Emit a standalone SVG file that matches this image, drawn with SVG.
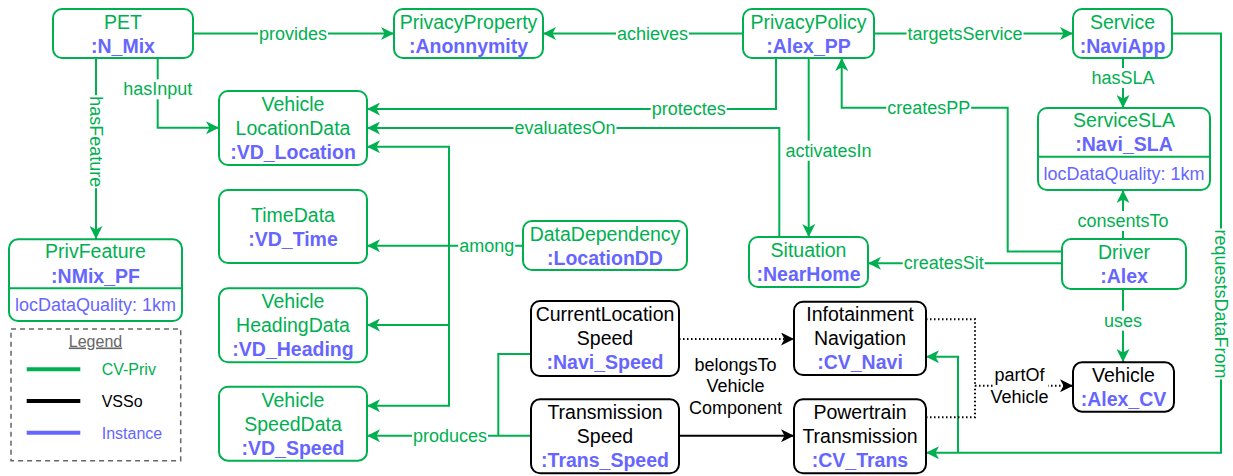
<svg xmlns="http://www.w3.org/2000/svg" width="1233" height="476" viewBox="0 0 1233 476">
  <style>
    .n { fill: #fff; stroke: #00B050; stroke-width: 2; }
    .nb { fill: #fff; stroke: #000; stroke-width: 2; }
    .t { font-family: "Liberation Sans", Arial, sans-serif; font-size: 19.5px; text-anchor: middle; }
    .g { fill: #00B050; }
    .k { fill: #000; }
    .i { fill: #6666FF; font-weight: bold; }
    .at { fill: #6666FF; font-size: 18px; }
    .e { fill: none; stroke: #00B050; stroke-width: 2; }
    .eb { fill: none; stroke: #000; stroke-width: 2; }
    .dot { stroke-dasharray: 1.5 2.5; }
    .lb { font-family: "Liberation Sans", Arial, sans-serif; font-size: 18px; text-anchor: middle; fill: #00B050; }
    .lbk { font-family: "Liberation Sans", Arial, sans-serif; font-size: 18px; text-anchor: middle; fill: #000; }
    .bg { fill: #fff; }
    .lg { font-family: "Liberation Sans", Arial, sans-serif; font-size: 16px; }
  </style>
  <defs>
    <marker id="ag" markerUnits="userSpaceOnUse" viewBox="0 0 13 13" markerWidth="13" markerHeight="13" refX="13" refY="6.5" orient="auto">
      <path d="M0,0 L13,6.5 L0,13 L3.5,6.5 Z" fill="#00B050"/>
    </marker>
    <marker id="ak" markerUnits="userSpaceOnUse" viewBox="0 0 13 13" markerWidth="13" markerHeight="13" refX="13" refY="6.5" orient="auto">
      <path d="M0,0 L13,6.5 L0,13 L3.5,6.5 Z" fill="#000"/>
    </marker>
  </defs>

  <!-- connectors -->
  <g id="edges">
    <path class="e" d="M193,33.5 H394" marker-end="url(#ag)"/>
    <path class="e" d="M743,33.5 H543" marker-end="url(#ag)"/>
    <path class="e" d="M874,33.5 H1073" marker-end="url(#ag)"/>
    <path class="e" d="M1123,58 V108" marker-end="url(#ag)"/>
    <path class="e" d="M1172,33.5 H1221 V452.7 H926" marker-end="url(#ag)"/>
    <path class="e" d="M958,452.7 V356.7 H926" marker-end="url(#ag)"/>
    <path class="e" d="M96,58 V239" marker-end="url(#ag)"/>
    <path class="e" d="M157.7,58 V127.7 H219" marker-end="url(#ag)"/>
    <path class="e" d="M776,58 V109 H367" marker-end="url(#ag)"/>
    <path class="e" d="M779.3,237 V128 H367" marker-end="url(#ag)"/>
    <path class="e" d="M523,245.7 H367" marker-end="url(#ag)"/>
    <path class="e" d="M449,245.7 V146.7 H367" marker-end="url(#ag)"/>
    <path class="e" d="M449,245.7 V325 H367" marker-end="url(#ag)"/>
    <path class="e" d="M449,325 V405.7 H367" marker-end="url(#ag)"/>
    <path class="e" d="M808.7,58 V237" marker-end="url(#ag)"/>
    <path class="e" d="M1062,251.5 H1007.7 V107.7 H841.7 V58" marker-end="url(#ag)"/>
    <path class="e" d="M1062,263.3 H868" marker-end="url(#ag)"/>
    <path class="e" d="M1123,239 V190" marker-end="url(#ag)"/>
    <path class="e" d="M1123,289 V362" marker-end="url(#ag)"/>
    <path class="e" d="M531,354 H498.3 V435.7"/>
    <path class="e" d="M531,435.7 H367" marker-end="url(#ag)"/>

    <path class="eb dot" d="M679,339 H794" marker-end="url(#ak)"/>
    <path class="eb" d="M679,435.7 H794" marker-end="url(#ak)"/>
    <path class="eb dot" d="M926,319.3 H975 V385.7"/>
    <path class="eb dot" d="M926,417.3 H975 V385.7"/>
    <path class="eb dot" d="M975,385.7 H1073" marker-end="url(#ak)"/>

    <!-- connector labels -->
    <rect class="bg" x="258" y="23.5" width="70" height="20"/>
    <text class="lb" x="293" y="39.5">provides</text>
    <rect class="bg" x="616" y="23.5" width="73" height="20"/>
    <text class="lb" x="652.5" y="39.5">achieves</text>
    <rect class="bg" x="906.5" y="23.5" width="117" height="20"/>
    <text class="lb" x="965" y="39.5">targetsService</text>
    <rect class="bg" x="1090.5" y="68" width="65" height="20"/>
    <text class="lb" x="1123" y="84">hasSLA</text>
    <rect class="bg" x="122" y="79.3" width="71" height="20"/>
    <text class="lb" x="157.7" y="95.3">hasInput</text>
    <rect class="bg" x="650.7" y="99" width="76" height="20"/>
    <text class="lb" x="688.7" y="115">protectes</text>
    <rect class="bg" x="513.5" y="118" width="103" height="20"/>
    <text class="lb" x="565" y="134">evaluatesOn</text>
    <rect class="bg" x="784.5" y="140.7" width="88" height="20"/>
    <text class="lb" x="828.5" y="156.7">activatesIn</text>
    <rect class="bg" x="886.2" y="97.7" width="85" height="20"/>
    <text class="lb" x="928.7" y="113.7">createsPP</text>
    <rect class="bg" x="902.7" y="253.3" width="82" height="20"/>
    <text class="lb" x="943.7" y="269.3">createsSit</text>
    <rect class="bg" x="1075.5" y="211" width="95" height="20"/>
    <text class="lb" x="1123" y="227">consentsTo</text>
    <rect class="bg" x="1103" y="310.7" width="40" height="20"/>
    <text class="lb" x="1123" y="326.7">uses</text>
    <rect class="bg" x="458.2" y="235.7" width="57" height="20"/>
    <text class="lb" x="486.7" y="251.7">among</text>
    <rect class="bg" x="412" y="425.7" width="76" height="20"/>
    <text class="lb" x="450" y="441.7">produces</text>
    <g transform="translate(96,141.7) rotate(90)">
      <rect class="bg" x="-46.5" y="-10" width="93" height="20"/>
      <text class="lb" x="0" y="6">hasFeature</text>
    </g>
    <g transform="translate(1221,304) rotate(90)">
      <rect class="bg" x="-75.5" y="-10" width="151" height="20"/>
      <text class="lb" x="0" y="6">requestsDataFrom</text>
    </g>
    <text class="lbk" x="735.5" y="370.7">belongsTo</text>
    <text class="lbk" x="735.5" y="392.3">Vehicle</text>
    <text class="lbk" x="735.5" y="413.8">Component</text>
    <rect class="bg" x="993" y="364" width="55" height="44"/>
    <text class="lbk" x="1019.5" y="381">partOf</text>
    <text class="lbk" x="1019.5" y="403">Vehicle</text>
  </g>

  <!-- nodes -->
  <g id="pet">
    <rect class="n" x="53" y="9" width="140" height="49" rx="9"/>
    <text class="t g" x="123" y="28.5">PET</text>
    <text class="t i" x="123" y="52.5">:N_Mix</text>
  </g>
  <g id="privacyProperty">
    <rect class="n" x="394" y="9" width="149" height="49" rx="9"/>
    <text class="t g" x="468.5" y="28.5">PrivacyProperty</text>
    <text class="t i" x="468.5" y="52.5">:Anonnymity</text>
  </g>
  <g id="privacyPolicy">
    <rect class="n" x="743" y="9" width="131" height="49" rx="9"/>
    <text class="t g" x="808.5" y="28.5">PrivacyPolicy</text>
    <text class="t i" x="808.5" y="52.5">:Alex_PP</text>
  </g>
  <g id="service">
    <rect class="n" x="1073" y="9" width="99" height="49" rx="9"/>
    <text class="t g" x="1122.5" y="28.5">Service</text>
    <text class="t i" x="1122.5" y="52.5">:NaviApp</text>
  </g>
  <g id="serviceSLA">
    <rect class="n" x="1038" y="108" width="172" height="82" rx="9"/>
    <line class="n" x1="1038" y1="156.7" x2="1210" y2="156.7"/>
    <text class="t g" x="1124" y="127.3">ServiceSLA</text>
    <text class="t i" x="1124" y="151.3">:Navi_SLA</text>
    <text class="t at" x="1124" y="179.5">locDataQuality: 1km</text>
  </g>
  <g id="vehicleLocationData">
    <rect class="n" x="219" y="91" width="148" height="74" rx="9"/>
    <text class="t g" x="293" y="111">Vehicle</text>
    <text class="t g" x="293" y="135">LocationData</text>
    <text class="t i" x="293" y="159">:VD_Location</text>
  </g>
  <g id="timeData">
    <rect class="n" x="219" y="190" width="148" height="73" rx="9"/>
    <text class="t g" x="293" y="221.5">TimeData</text>
    <text class="t i" x="293" y="245.5">:VD_Time</text>
  </g>
  <g id="privFeature">
    <rect class="n" x="9" y="239.3" width="173" height="81.7" rx="9"/>
    <line class="n" x1="9" y1="288.3" x2="182" y2="288.3"/>
    <text class="t g" x="95.5" y="258.3">PrivFeature</text>
    <text class="t i" x="95.5" y="282.5">:NMix_PF</text>
    <text class="t at" x="95.5" y="311">locDataQuality: 1km</text>
  </g>
  <g id="vehicleHeadingData">
    <rect class="n" x="219" y="288.3" width="148" height="74" rx="9"/>
    <text class="t g" x="293" y="308.3">Vehicle</text>
    <text class="t g" x="293" y="332.3">HeadingData</text>
    <text class="t i" x="293" y="356.3">:VD_Heading</text>
  </g>
  <g id="vehicleSpeedData">
    <rect class="n" x="219" y="386.7" width="148" height="74" rx="9"/>
    <text class="t g" x="293" y="407">Vehicle</text>
    <text class="t g" x="293" y="431">SpeedData</text>
    <text class="t i" x="293" y="455">:VD_Speed</text>
  </g>
  <g id="dataDependency">
    <rect class="n" x="523" y="221" width="164" height="49" rx="9"/>
    <text class="t g" x="605" y="240.5">DataDependency</text>
    <text class="t i" x="605" y="264.5">:LocationDD</text>
  </g>
  <g id="situation">
    <rect class="n" x="749" y="237" width="119" height="50" rx="9"/>
    <text class="t g" x="808.5" y="257">Situation</text>
    <text class="t i" x="808.5" y="281">:NearHome</text>
  </g>
  <g id="driver">
    <rect class="n" x="1062" y="239" width="124" height="50" rx="9"/>
    <text class="t g" x="1124" y="259">Driver</text>
    <text class="t i" x="1124" y="283">:Alex</text>
  </g>
  <g id="currentLocationSpeed">
    <rect class="nb" x="531" y="301" width="148" height="75" rx="9"/>
    <text class="t k" x="605" y="321.4">CurrentLocation</text>
    <text class="t k" x="605" y="345.4">Speed</text>
    <text class="t i" x="605" y="369.4">:Navi_Speed</text>
  </g>
  <g id="transmissionSpeed">
    <rect class="nb" x="531" y="399.3" width="148" height="74" rx="9"/>
    <text class="t k" x="605" y="419.3">Transmission</text>
    <text class="t k" x="605" y="443.3">Speed</text>
    <text class="t i" x="605" y="467.3">:Trans_Speed</text>
  </g>
  <g id="infotainmentNavigation">
    <rect class="nb" x="794" y="301.7" width="132" height="73.3" rx="9"/>
    <text class="t k" x="860" y="321.4">Infotainment</text>
    <text class="t k" x="860" y="345.4">Navigation</text>
    <text class="t i" x="860" y="369.4">:CV_Navi</text>
  </g>
  <g id="powertrainTransmission">
    <rect class="nb" x="794" y="399.3" width="132" height="74" rx="9"/>
    <text class="t k" x="860" y="419.3">Powertrain</text>
    <text class="t k" x="860" y="443.3">Transmission</text>
    <text class="t i" x="860" y="467.3">:CV_Trans</text>
  </g>
  <g id="vehicle">
    <rect class="nb" x="1073" y="362.3" width="101" height="49.4" rx="9"/>
    <text class="t k" x="1123.5" y="382">Vehicle</text>
    <text class="t i" x="1123.5" y="406">:Alex_CV</text>
  </g>

  <!-- legend -->
  <g id="legend">
    <rect x="11" y="329" width="169.7" height="131.7" fill="#fff" stroke="#666" stroke-width="1.5" stroke-dasharray="5 4"/>
    <text class="lg" x="95.5" y="346.5" text-anchor="middle" fill="#666" text-decoration="underline">Legend</text>
    <line x1="26.7" y1="369.3" x2="80.3" y2="369.3" stroke="#00B050" stroke-width="4"/>
    <line x1="26.7" y1="401" x2="80.3" y2="401" stroke="#000" stroke-width="4"/>
    <line x1="26.7" y1="432.7" x2="80.3" y2="432.7" stroke="#6666FF" stroke-width="4"/>
    <text class="lg" x="101.7" y="375" fill="#00B050">CV-Priv</text>
    <text class="lg" x="101.7" y="406.8" fill="#000">VSSo</text>
    <text class="lg" x="101.7" y="438.5" fill="#6666FF">Instance</text>
  </g>
</svg>
